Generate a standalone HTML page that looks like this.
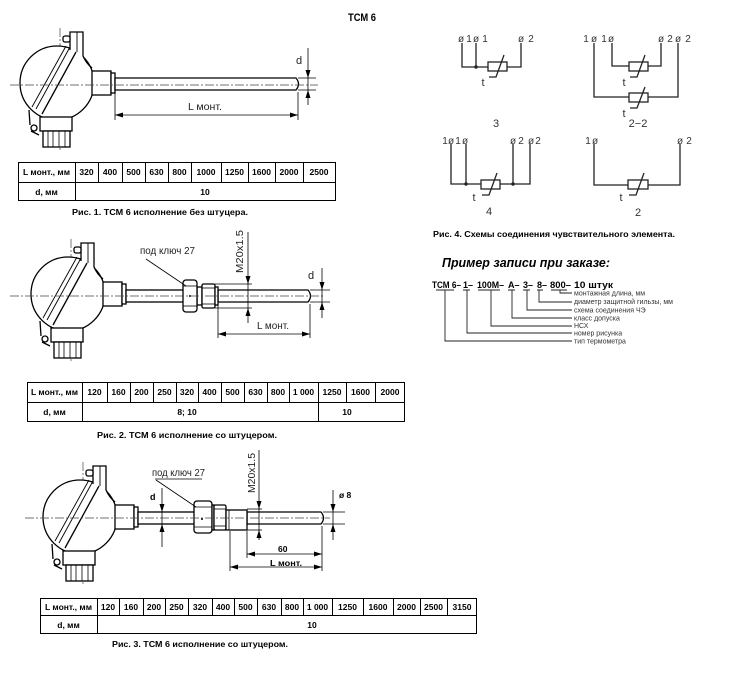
<!DOCTYPE html>
<html><head><meta charset="utf-8"><style>
html,body{margin:0;padding:0;background:#fff;}
svg{display:block;}
text{font-family:"Liberation Sans","DejaVu Sans",sans-serif;}
.cl{stroke:#444;stroke-width:0.7;stroke-dasharray:9 2 2 2;fill:none;}
.tb text{font-weight:bold;font-size:8.5px;text-anchor:middle;fill:#000;}
.sc{stroke:#222;stroke-width:1.3;fill:none;}
.st{font-size:10px;fill:#333;}
</style></head><body>
<svg width="750" height="675" viewBox="0 0 750 675" xmlns="http://www.w3.org/2000/svg">
<defs>
<g id="head" stroke="#000" stroke-width="1.3" fill="none">
  <line x1="60" y1="28" x2="60" y2="150" class="cl"/>
  <circle cx="57" cy="83" r="37" fill="#fff"/>
  <path d="M70,50 L70,32 L83,32 L83,56 Q86,63 92,68" fill="#fff"/>
  <line x1="77" y1="32" x2="77" y2="52" stroke-width="0.9"/>
  <rect x="63" y="36" width="7" height="6" rx="2" fill="#fff"/>
  <line x1="66" y1="46" x2="32" y2="107" stroke-width="0.9"/>
  <line x1="70" y1="47" x2="36" y2="109" stroke-width="0.9"/>
  <line x1="76" y1="52" x2="42" y2="114"/>
  <rect x="92" y="71" width="19" height="24" fill="#fff"/>
  <rect x="111" y="73" width="4" height="20" fill="#fff"/>
  <rect x="40" y="117" width="32" height="14" fill="#fff"/>
  <rect x="43" y="131" width="27" height="16" fill="#fff"/>
  <line x1="48" y1="131" x2="48" y2="147" stroke-width="0.8"/>
  <line x1="53" y1="131" x2="53" y2="147" stroke-width="0.8"/>
  <line x1="59" y1="131" x2="59" y2="147" stroke-width="0.8"/>
  <line x1="65" y1="131" x2="65" y2="147" stroke-width="0.8"/>
  <path d="M29,110 L30,125" />
  <circle cx="34" cy="128" r="3" fill="#fff"/>
  <path d="M31,131 L39,135" />
</g>
</defs>

<!-- Title -->
<text x="348" y="21" font-size="11" font-weight="bold" textLength="28" lengthAdjust="spacingAndGlyphs">ТСМ 6</text>

<!-- ============ FIG 1 ============ -->
<use href="#head"/>
<path d="M115,78 H296 Q301,84 296,90 H115 Z" fill="#fff" stroke="#000" stroke-width="1.3"/>
<line x1="10" y1="85" x2="318" y2="85" class="cl"/>
<g stroke="#000" stroke-width="0.8">
<line x1="308" y1="48" x2="308" y2="105"/>
<line x1="298" y1="78" x2="316" y2="78"/>
<line x1="298" y1="90" x2="316" y2="90"/>
<line x1="115" y1="92" x2="115" y2="120"/>
<line x1="298" y1="92" x2="298" y2="120"/>
<line x1="115" y1="115" x2="298" y2="115"/>
</g>
<g fill="#000">
<polygon points="308,78 305.5,70 310.5,70"/>
<polygon points="308,90 305.5,98 310.5,98"/>
<polygon points="115,115 123,112.5 123,117.5"/>
<polygon points="298,115 290,112.5 290,117.5"/>
</g>
<text x="296" y="64" font-size="11" fill="#222">d</text>
<text x="188" y="110" font-size="10" fill="#222" textLength="34" lengthAdjust="spacingAndGlyphs">L монт.</text>

<!-- Table 1 -->
<g stroke="#000" stroke-width="1" fill="none">
<rect x="18.5" y="162.5" width="317" height="38"/>
<line x1="18" y1="182.5" x2="336" y2="182.5"/>
<line x1="75.5" y1="162" x2="75.5" y2="201"/>
<line x1="98.5" y1="162" x2="98.5" y2="182"/>
<line x1="122.5" y1="162" x2="122.5" y2="182"/>
<line x1="145.5" y1="162" x2="145.5" y2="182"/>
<line x1="168.5" y1="162" x2="168.5" y2="182"/>
<line x1="191.5" y1="162" x2="191.5" y2="182"/>
<line x1="221.5" y1="162" x2="221.5" y2="182"/>
<line x1="248.5" y1="162" x2="248.5" y2="182"/>
<line x1="275.5" y1="162" x2="275.5" y2="182"/>
<line x1="303.5" y1="162" x2="303.5" y2="182"/>
</g>
<g class="tb">
<text x="46.5" y="175" font-size="8">L монт., мм</text>
<text x="86.5" y="175">320</text><text x="110" y="175">400</text><text x="133.5" y="175">500</text>
<text x="156.5" y="175">630</text><text x="179.5" y="175">800</text><text x="206" y="175">1000</text>
<text x="234.5" y="175">1250</text><text x="261.5" y="175">1600</text><text x="289" y="175">2000</text>
<text x="319" y="175">2500</text>
<text x="46.5" y="195" font-size="8">d, мм</text>
<text x="205" y="195">10</text>
</g>
<text x="72" y="215" font-size="8" font-weight="bold" textLength="176" lengthAdjust="spacingAndGlyphs">Рис. 1. ТСМ 6 исполнение без штуцера.</text>

<!-- ============ FIG 2 ============ -->
<use href="#head" transform="translate(11,211)"/>
<g stroke="#000" stroke-width="1.3" fill="#fff">
<rect x="126" y="290" width="58" height="12"/>
<path d="M218,290 H308 Q313,296 308,302 H218 Z"/>
<rect x="197" y="287" width="5" height="18"/>
<rect x="183" y="280" width="14" height="32" rx="3"/>
<rect x="202" y="284" width="13" height="24" rx="1.5"/>
<rect x="215" y="287" width="3" height="18"/>
</g>
<g stroke="#000" stroke-width="0.8">
<line x1="183" y1="286" x2="197" y2="286"/>
<line x1="183" y1="306" x2="197" y2="306"/>
<line x1="202" y1="288" x2="215" y2="288"/>
<line x1="202" y1="304" x2="215" y2="304"/>
</g>
<circle cx="190" cy="296" r="1" fill="#000"/>
<line x1="10" y1="296" x2="325" y2="296" class="cl"/>
<g stroke="#000" stroke-width="0.8">
<line x1="146" y1="259" x2="186" y2="286"/>
<line x1="248" y1="232" x2="248" y2="323"/>
<line x1="215" y1="284" x2="252" y2="284"/>
<line x1="215" y1="308" x2="252" y2="308"/>
<line x1="322" y1="268" x2="322" y2="318"/>
<line x1="310" y1="290" x2="330" y2="290"/>
<line x1="310" y1="302" x2="330" y2="302"/>
<line x1="218" y1="304" x2="218" y2="338"/>
<line x1="310" y1="304" x2="310" y2="338"/>
<line x1="218" y1="334" x2="310" y2="334"/>
</g>
<g fill="#000">
<polygon points="248,284 245.5,276 250.5,276"/>
<polygon points="248,308 245.5,316 250.5,316"/>
<polygon points="322,290 319.5,282 324.5,282"/>
<polygon points="322,302 319.5,310 324.5,310"/>
<polygon points="218,334 226,331.5 226,336.5"/>
<polygon points="310,334 302,331.5 302,336.5"/>
</g>
<text x="140" y="254" font-size="10" fill="#222" textLength="55" lengthAdjust="spacingAndGlyphs">под ключ 27</text>
<text transform="translate(243,251.5) rotate(-90)" text-anchor="middle" font-size="10" fill="#222" textLength="43" lengthAdjust="spacingAndGlyphs">M20x1.5</text>
<text x="308" y="279" font-size="11" fill="#222">d</text>
<text x="257" y="329" font-size="10" fill="#222" textLength="32" lengthAdjust="spacingAndGlyphs">L монт.</text>

<!-- Table 2 -->
<g stroke="#000" stroke-width="1" fill="none">
<rect x="27.5" y="382.5" width="377" height="39"/>
<line x1="27" y1="402.5" x2="405" y2="402.5"/>
<line x1="82.5" y1="382" x2="82.5" y2="422"/>
<line x1="318.5" y1="382" x2="318.5" y2="422"/>
<line x1="107.5" y1="382" x2="107.5" y2="402"/>
<line x1="130.5" y1="382" x2="130.5" y2="402"/>
<line x1="153.5" y1="382" x2="153.5" y2="402"/>
<line x1="176.5" y1="382" x2="176.5" y2="402"/>
<line x1="198.5" y1="382" x2="198.5" y2="402"/>
<line x1="221.5" y1="382" x2="221.5" y2="402"/>
<line x1="244.5" y1="382" x2="244.5" y2="402"/>
<line x1="267.5" y1="382" x2="267.5" y2="402"/>
<line x1="289.5" y1="382" x2="289.5" y2="402"/>
<line x1="346.5" y1="382" x2="346.5" y2="402"/>
<line x1="375.5" y1="382" x2="375.5" y2="402"/>
</g>
<g class="tb">
<text x="54.5" y="395" font-size="8">L монт., мм</text>
<text x="94.5" y="395">120</text><text x="118.5" y="395">160</text><text x="141.5" y="395">200</text>
<text x="164.5" y="395">250</text><text x="187" y="395">320</text><text x="209.5" y="395">400</text>
<text x="232.5" y="395">500</text><text x="255.5" y="395">630</text><text x="278" y="395">800</text>
<text x="303.5" y="395">1 000</text><text x="332" y="395">1250</text><text x="360.5" y="395">1600</text>
<text x="390" y="395">2000</text>
<text x="54.5" y="415" font-size="8">d, мм</text>
<text x="187" y="415">8; 10</text>
<text x="347" y="415">10</text>
</g>
<text x="97" y="438" font-size="8" font-weight="bold" textLength="180" lengthAdjust="spacingAndGlyphs">Рис. 2. ТСМ 6 исполнение со штуцером.</text>

<!-- ============ FIG 3 ============ -->
<use href="#head" transform="translate(23,434)"/>
<g stroke="#000" stroke-width="1.3" fill="#fff">
<rect x="138" y="512" width="57" height="12"/>
<path d="M247,512 H321 Q326,518 321,524 H247 Z"/>
<rect x="194" y="501" width="18" height="32" rx="3"/>
<rect x="212" y="505" width="2" height="25"/>
<rect x="214" y="505" width="12" height="25" rx="1.5"/>
<rect x="226" y="510" width="21" height="20"/>
</g>
<g stroke="#000" stroke-width="0.8">
<line x1="194" y1="507" x2="212" y2="507"/>
<line x1="194" y1="527" x2="212" y2="527"/>
<line x1="214" y1="509" x2="226" y2="509"/>
<line x1="214" y1="526" x2="226" y2="526"/>
<line x1="229" y1="510" x2="229" y2="530"/>
</g>
<circle cx="202" cy="519" r="1" fill="#000"/>
<line x1="25" y1="518" x2="330" y2="518" class="cl"/>
<g stroke="#000" stroke-width="0.8">
<line x1="162" y1="488" x2="162" y2="547"/>
<line x1="155" y1="479" x2="202" y2="479"/>
<line x1="156" y1="480" x2="196" y2="507"/>
<line x1="259" y1="450" x2="259" y2="540"/>
<line x1="247" y1="509" x2="262" y2="509"/>
<line x1="247" y1="530" x2="262" y2="530"/>
<line x1="333" y1="490" x2="333" y2="540"/>
<line x1="323" y1="512" x2="345" y2="512"/>
<line x1="323" y1="524" x2="345" y2="524"/>
<line x1="230" y1="531" x2="230" y2="571"/>
<line x1="247" y1="531" x2="247" y2="558"/>
<line x1="322" y1="526" x2="322" y2="571"/>
<line x1="247" y1="554" x2="322" y2="554"/>
<line x1="230" y1="567" x2="322" y2="567"/>
</g>
<g fill="#000">
<polygon points="162,512 159.5,504 164.5,504"/>
<polygon points="162,524 159.5,532 164.5,532"/>
<polygon points="259,509 256.5,501 261.5,501"/>
<polygon points="259,530 256.5,538 261.5,538"/>
<polygon points="333,512 330.5,504 335.5,504"/>
<polygon points="333,524 330.5,532 335.5,532"/>
<polygon points="247,554 255,551.5 255,556.5"/>
<polygon points="322,554 314,551.5 314,556.5"/>
<polygon points="230,567 238,564.5 238,569.5"/>
<polygon points="322,567 314,564.5 314,569.5"/>
</g>
<text x="152" y="476" font-size="10" fill="#222" textLength="53" lengthAdjust="spacingAndGlyphs">под ключ 27</text>
<text transform="translate(255,473) rotate(-90)" text-anchor="middle" font-size="10" fill="#222" textLength="40" lengthAdjust="spacingAndGlyphs">M20x1.5</text>
<text x="150" y="500" font-size="9" font-weight="bold">d</text>
<text x="339" y="498" font-size="8.5" font-weight="bold">ø 8</text>
<text x="278" y="552" font-size="8.5" font-weight="bold">60</text>
<text x="270" y="566" font-size="8.5" font-weight="bold" textLength="32" lengthAdjust="spacingAndGlyphs">L монт.</text>

<!-- Table 3 -->
<g stroke="#000" stroke-width="1" fill="none">
<rect x="40.5" y="598.5" width="436" height="35"/>
<line x1="40" y1="615.5" x2="477" y2="615.5"/>
<line x1="97.5" y1="598" x2="97.5" y2="634"/>
<line x1="119.5" y1="598" x2="119.5" y2="615"/>
<line x1="143.5" y1="598" x2="143.5" y2="615"/>
<line x1="165.5" y1="598" x2="165.5" y2="615"/>
<line x1="188.5" y1="598" x2="188.5" y2="615"/>
<line x1="212.5" y1="598" x2="212.5" y2="615"/>
<line x1="234.5" y1="598" x2="234.5" y2="615"/>
<line x1="257.5" y1="598" x2="257.5" y2="615"/>
<line x1="281.5" y1="598" x2="281.5" y2="615"/>
<line x1="303.5" y1="598" x2="303.5" y2="615"/>
<line x1="332.5" y1="598" x2="332.5" y2="615"/>
<line x1="363.5" y1="598" x2="363.5" y2="615"/>
<line x1="393.5" y1="598" x2="393.5" y2="615"/>
<line x1="420.5" y1="598" x2="420.5" y2="615"/>
<line x1="447.5" y1="598" x2="447.5" y2="615"/>
</g>
<g class="tb">
<text x="68.5" y="610" font-size="8">L монт., мм</text>
<text x="108" y="610">120</text><text x="131" y="610">160</text><text x="154" y="610">200</text>
<text x="176.5" y="610">250</text><text x="200" y="610">320</text><text x="223" y="610">400</text>
<text x="245.5" y="610">500</text><text x="269" y="610">630</text><text x="292" y="610">800</text>
<text x="317.5" y="610">1 000</text><text x="347.5" y="610">1250</text><text x="378" y="610">1600</text>
<text x="406.5" y="610">2000</text><text x="433.5" y="610">2500</text><text x="462" y="610">3150</text>
<text x="68.5" y="628" font-size="8">d, мм</text>
<text x="312" y="628">10</text>
</g>
<text x="112" y="647" font-size="8" font-weight="bold" textLength="176" lengthAdjust="spacingAndGlyphs">Рис. 3. ТСМ 6 исполнение со штуцером.</text>

<!-- ============ SCHEMES ============ -->
<!-- scheme 3 -->
<g class="sc">
<path d="M462,43 V67 H488 M476,43 V67 M507,67 H521 V43"/>
<rect x="488" y="62" width="19" height="9"/>
<path d="M489,77 H496 L504,55"/>
</g>
<circle cx="476" cy="67" r="1.7" fill="#222"/>
<g class="st" text-anchor="middle">
<text x="461" y="42">ø</text><text x="469" y="42">1</text><text x="476" y="42">ø</text><text x="485" y="42">1</text>
<text x="521" y="42">ø</text><text x="531" y="42">2</text>
<text x="483" y="86" font-size="11">t</text>
<text x="496" y="127" font-size="11">3</text>
</g>
<!-- scheme 2-2 -->
<g class="sc">
<path d="M594,43 V97 H629 M648,97 H678 V43"/>
<rect x="629" y="93" width="19" height="9"/>
<path d="M612,43 V66 H629 M648,66 H661 V43"/>
<rect x="629" y="62" width="19" height="9"/>
<path d="M630,77 H637 L645,55"/>
<path d="M630,108 H637 L645,87"/>
</g>
<g class="st" text-anchor="middle">
<text x="586" y="42">1</text><text x="594" y="42">ø</text><text x="604" y="42">1</text><text x="611" y="42">ø</text>
<text x="661" y="42">ø</text><text x="670" y="42">2</text><text x="678" y="42">ø</text><text x="688" y="42">2</text>
<text x="624" y="86" font-size="11">t</text>
<text x="624" y="117" font-size="11">t</text>
<text x="638" y="127" font-size="11">2−2</text>
</g>
<!-- scheme 4 -->
<g class="sc">
<path d="M451,144 V184 H481 M466,144 V184 M500,184 H530 V144 M513,144 V184"/>
<rect x="481" y="180" width="19" height="9"/>
<path d="M482,195 H489 L497,173"/>
</g>
<circle cx="466" cy="184" r="1.7" fill="#222"/>
<circle cx="513" cy="184" r="1.7" fill="#222"/>
<g class="st" text-anchor="middle">
<text x="445" y="144">1</text><text x="451" y="144">ø</text><text x="458" y="144">1</text><text x="465" y="144">ø</text>
<text x="513" y="144">ø</text><text x="521" y="144">2</text><text x="531" y="144">ø</text><text x="538" y="144">2</text>
<text x="474" y="201" font-size="11">t</text>
<text x="489" y="215" font-size="11">4</text>
</g>
<!-- scheme 2 -->
<g class="sc">
<path d="M594,144 V185 H628 M648,185 H680 V144"/>
<rect x="628" y="180" width="20" height="9"/>
<path d="M629,195 H636 L644,173"/>
</g>
<g class="st" text-anchor="middle">
<text x="588" y="144">1</text><text x="595" y="144">ø</text>
<text x="680" y="144">ø</text><text x="689" y="144">2</text>
<text x="621" y="201" font-size="11">t</text>
<text x="638" y="216" font-size="11">2</text>
</g>
<text x="433" y="237" font-size="8" font-weight="bold" textLength="242" lengthAdjust="spacingAndGlyphs">Рис. 4. Схемы соединения чувствительного элемента.</text>

<!-- ============ ORDER EXAMPLE ============ -->
<text x="442" y="267" font-size="13" font-weight="bold" font-style="italic" textLength="168" lengthAdjust="spacingAndGlyphs">Пример записи при заказе:</text>
<g font-size="9" font-weight="bold">
<text x="432" y="288" textLength="29" lengthAdjust="spacingAndGlyphs">ТСМ 6–</text>
<text x="463" y="288">1–</text>
<text x="477" y="288" textLength="27" lengthAdjust="spacingAndGlyphs">100М–</text>
<text x="508" y="288">А–</text>
<text x="523" y="288">3–</text>
<text x="537" y="288">8–</text>
<text x="550" y="288" textLength="21" lengthAdjust="spacingAndGlyphs">800–</text>
<text x="574" y="288" textLength="39" lengthAdjust="spacingAndGlyphs">10 штук</text>
</g>
<g stroke="#222" stroke-width="0.9" fill="none">
<path d="M436,290 H454 M445,290 V341 H572"/>
<path d="M463,290 H470 M467,290 V333 H572"/>
<path d="M478,290 H500 M491,290 V326 H572"/>
<path d="M508,290 H515 M512,290 V318 H572"/>
<path d="M523,290 H530 M527,290 V310 H572"/>
<path d="M537,290 H543 M539,290 V302 H572"/>
<path d="M551,290 H567 M560,290 V293 H572"/>
</g>
<g font-size="7" fill="#333">
<text x="574" y="295.5">монтажная длина, мм</text>
<text x="574" y="304">диаметр защитной гильзы, мм</text>
<text x="574" y="312.5">схема соединения ЧЭ</text>
<text x="574" y="320.5">класс допуска</text>
<text x="574" y="328">НСХ</text>
<text x="574" y="335.5">номер рисунка</text>
<text x="574" y="343.5">тип термометра</text>
</g>
</svg>
</body></html>
